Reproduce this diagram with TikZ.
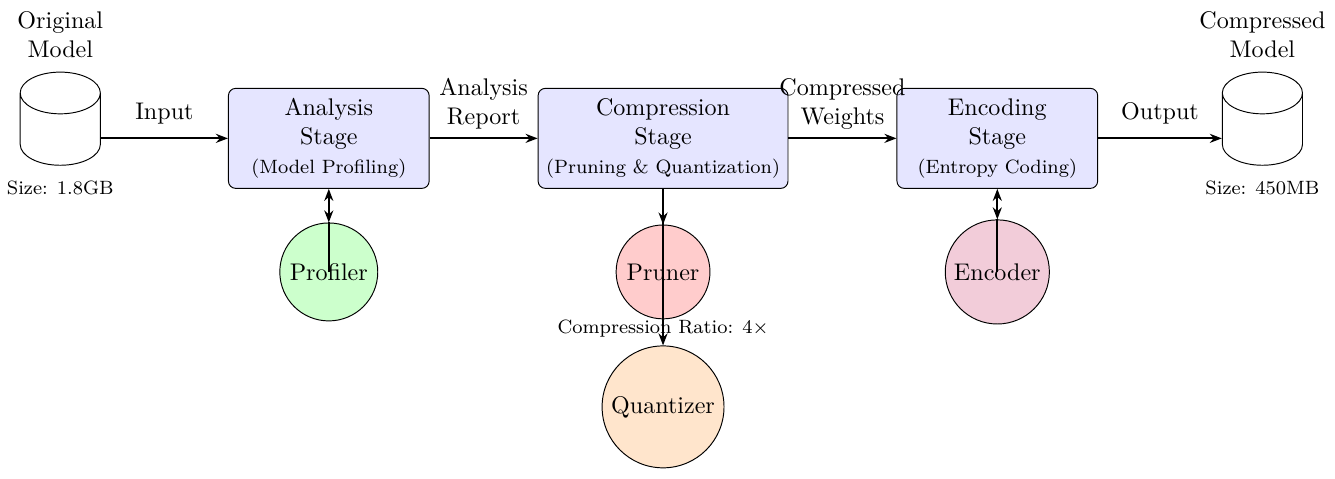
\documentclass[tikz,border=0pt]{standalone}
\usetikzlibrary{shapes.geometric}
\usetikzlibrary{arrows.meta}

\tikzset{
  stage/.style={rectangle, rounded corners=3pt, draw=black, fill=blue!10, minimum width=2.93cm, minimum height=1.46cm, align=center},
  tool/.style={circle, draw=black, inner sep=0pt},
  store/.style={cylinder, shape border rotate=90, draw=black, aspect=2.6, minimum width=1.17cm, minimum height=1.36cm},
  flow/.style={black, thick, -{Stealth[length=5pt]}}
}

\begin{document}
\begin{tikzpicture}
    \useasboundingbox (0,0) rectangle (19.49,6.98);

    \node[store] (orig) at (0.88,5.00) {};
    \node[align=center] (origlbl) at (0.88,6.47) {Original\\Model};
    \node[font=\footnotesize] (origsize) at (0.88,4.23) {Size: 1.8GB};

    \node[stage] (analysis) at (4.80,4.96) {Analysis\\Stage\\{\footnotesize (Model Profiling)}};
    \node[stage, minimum width=3.56cm] (compress) at (9.68,4.96) {Compression\\Stage\\{\footnotesize (Pruning \& Quantization)}};
    \node[stage] (encode) at (14.56,4.96) {Encoding\\Stage\\{\footnotesize (Entropy Coding)}};

    \node[store] (comp) at (18.43,5.00) {};
    \node[align=center] (complbl) at (18.43,6.47) {Compressed\\Model};
    \node[font=\footnotesize] (compsize) at (18.43,4.23) {Size: 450MB};

    \node[tool, fill=green!20, minimum size=1.43cm] (profiler) at (4.80,3.01) {Profiler};
    \node[tool, fill=red!20, minimum size=1.37cm] (pruner) at (9.68,3.01) {Pruner};
    \node[tool, fill=orange!20, minimum size=1.78cm] (quantizer) at (9.68,1.04) {Quantizer};
    \node[tool, fill=purple!20, minimum size=1.52cm] (encoder) at (14.56,3.01) {Encoder};

    \draw[flow] (orig.east |- analysis.west) -- node[above, yshift=2pt] {Input} (analysis.west);
    \draw[flow] (analysis) -- node[above, align=center] {Analysis\\Report} (compress);
    \draw[flow] (compress) -- node[above, align=center] {Compressed\\Weights} (encode);
    \draw[flow] (encode) -- node[above, yshift=2pt] {Output} (comp.west |- encode.east);

    \draw[black, thick, {Stealth[length=5pt]}-{Stealth[length=5pt]}] (analysis.south) -- (profiler.north);
    \draw[black, thick] (profiler.north) -- (profiler.center);
    \draw[flow] (compress.south) -- (pruner.north);
    \draw[flow] (compress.south) -- (quantizer.north);
    \node[font=\footnotesize] (ratio) at (9.68,2.19) {Compression Ratio: 4$\times$};
    \draw[black, thick, {Stealth[length=5pt]}-{Stealth[length=5pt]}] (encode.south) -- (encoder.north);
    \draw[black, thick] (encoder.north) -- (encoder.center);
\end{tikzpicture}
\end{document}
